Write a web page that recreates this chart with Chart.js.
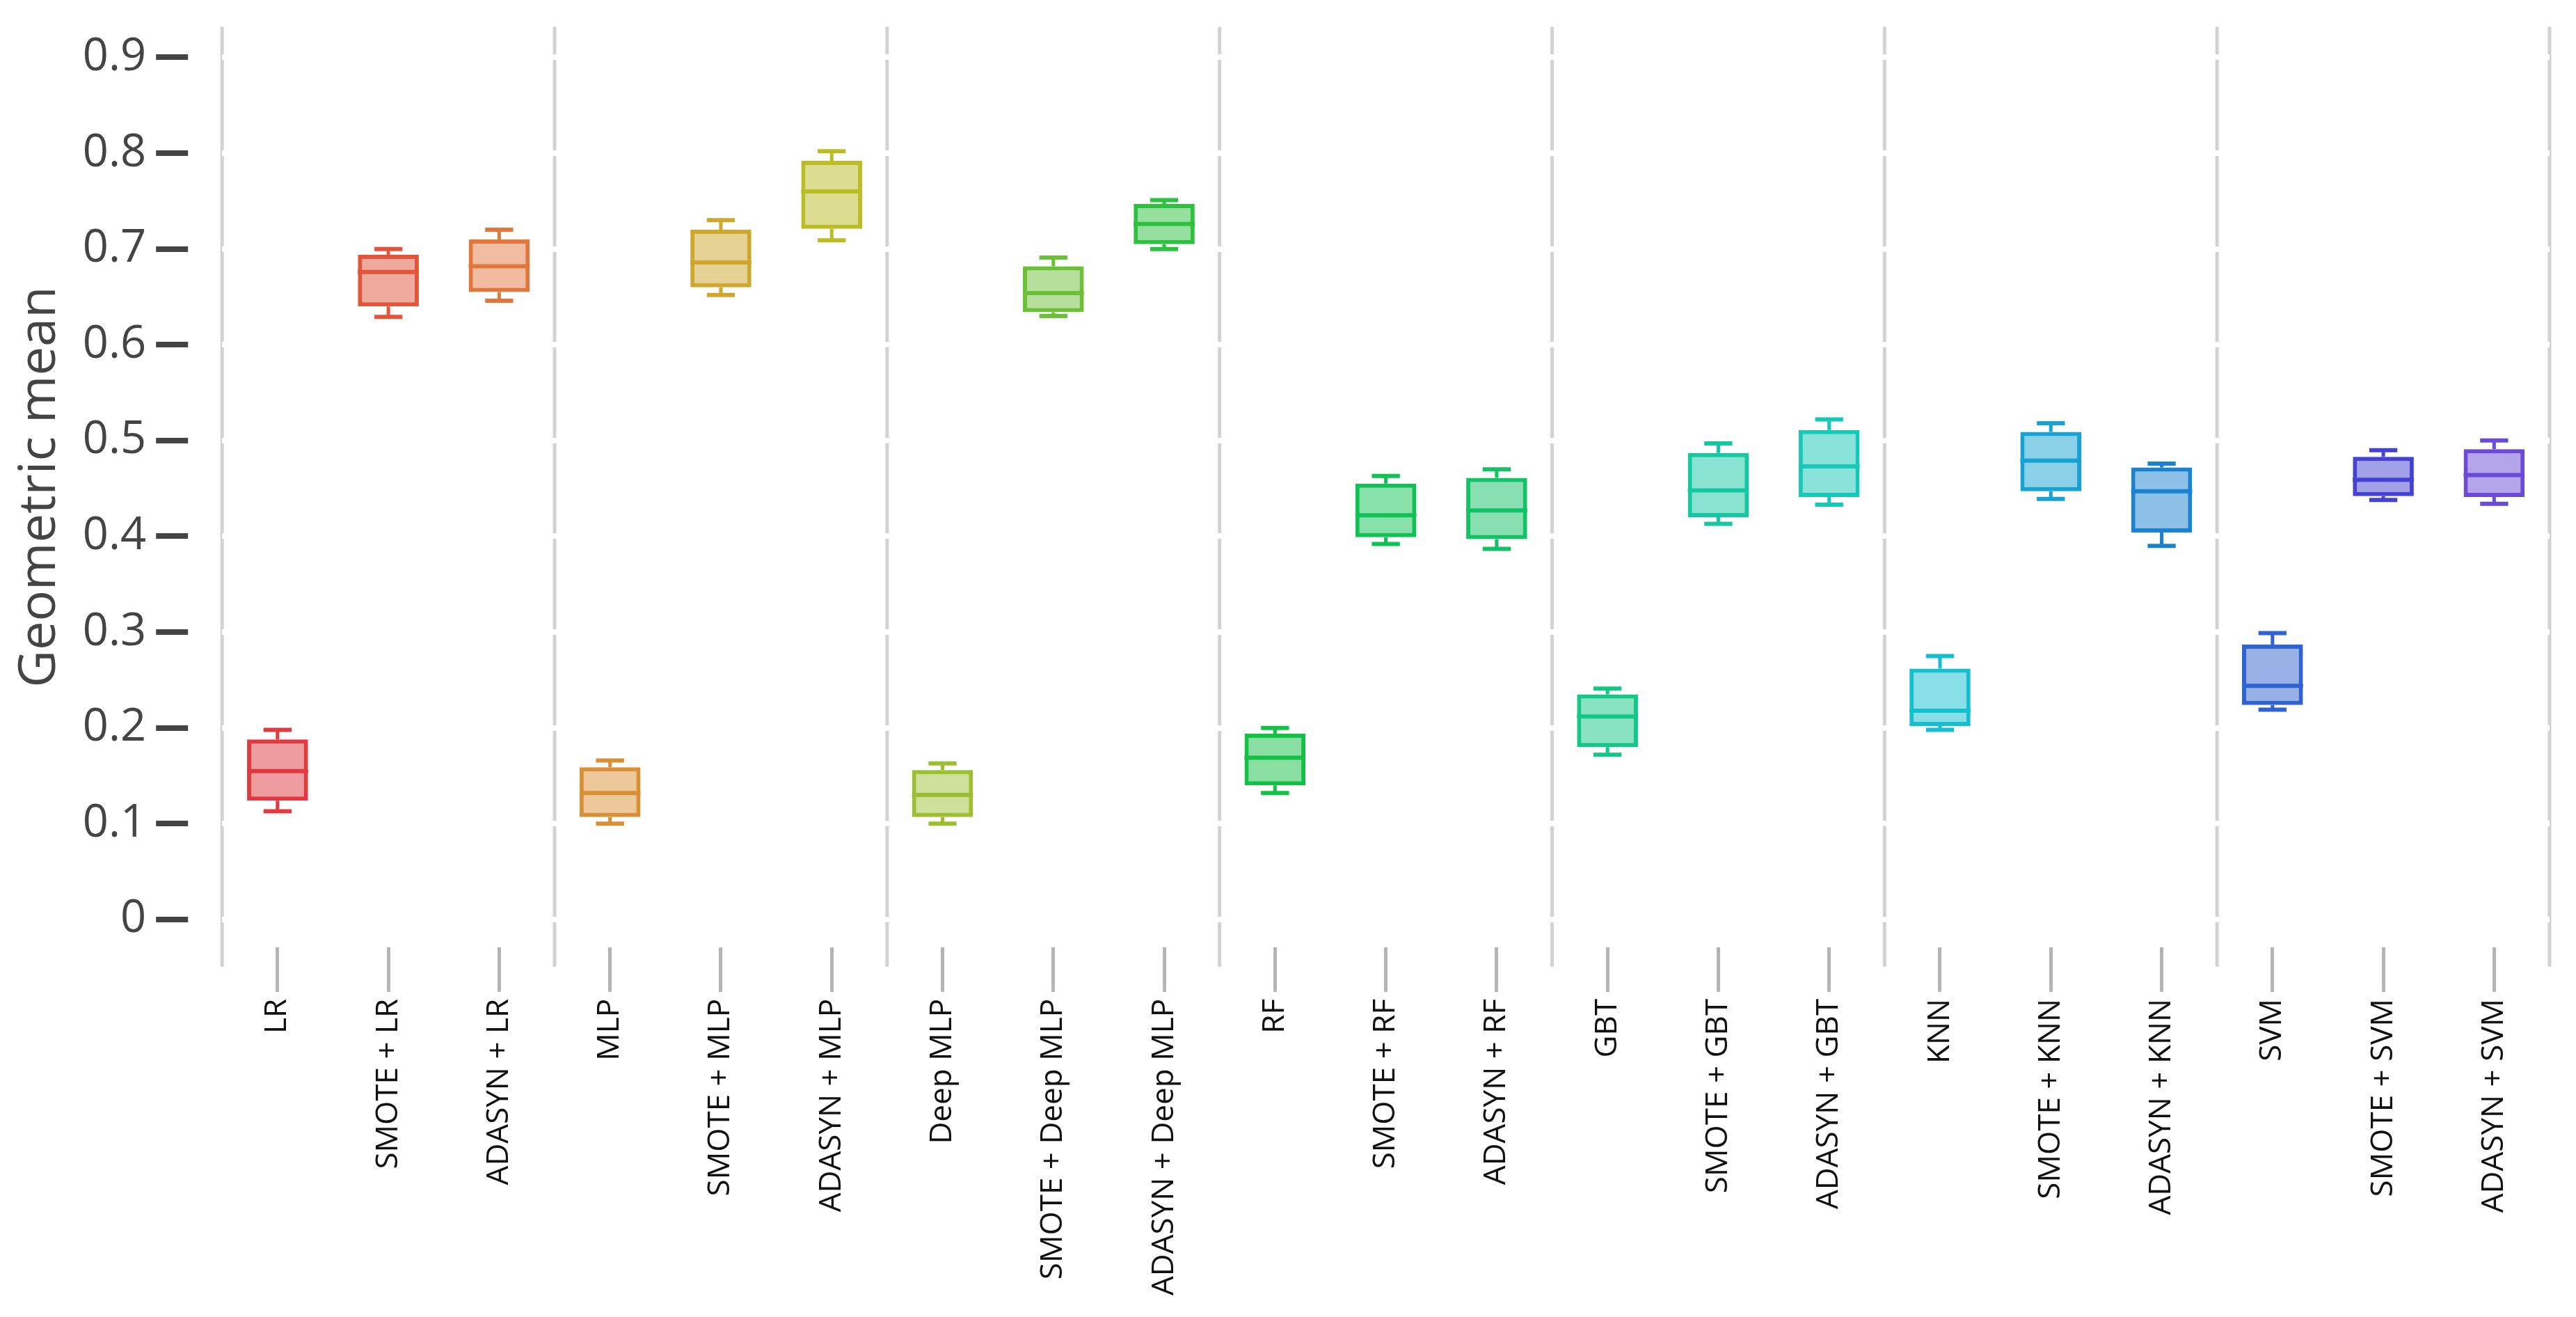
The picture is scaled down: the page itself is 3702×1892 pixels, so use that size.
<!DOCTYPE html>
<html>
<head>
<meta charset="utf-8">
<title>Geometric mean box plot</title>
<script src="https://cdn.jsdelivr.net/npm/chart.js@4.4.1/dist/chart.umd.min.js"></script>
<style>
  html, body { margin: 0; padding: 0; background: #fff; }
  #wrap { width: 3702px; height: 1892px; }
</style>
</head>
<body>
<div id="wrap"><canvas id="chart"></canvas></div>
<script>
const categories = [
  'LR', 'SMOTE + LR', 'ADASYN + LR',
  'MLP', 'SMOTE + MLP', 'ADASYN + MLP',
  'Deep MLP', 'SMOTE + Deep MLP', 'ADASYN + Deep MLP',
  'RF', 'SMOTE + RF', 'ADASYN + RF',
  'GBT', 'SMOTE + GBT', 'ADASYN + GBT',
  'KNN', 'SMOTE + KNN', 'ADASYN + KNN',
  'SVM', 'SMOTE + SVM', 'ADASYN + SVM'
];

// five-number summaries
const whiskerLow  = [0.113, 0.629, 0.646, 0.100, 0.652, 0.709, 0.100, 0.630, 0.700, 0.132, 0.392, 0.387, 0.172, 0.413, 0.433, 0.198, 0.439, 0.390, 0.219, 0.438, 0.434];
const boxLow      = [0.124, 0.640, 0.655, 0.107, 0.660, 0.721, 0.107, 0.634, 0.705, 0.140, 0.399, 0.397, 0.180, 0.420, 0.441, 0.202, 0.447, 0.404, 0.224, 0.442, 0.441];
const medians     = [0.155, 0.676, 0.682, 0.132, 0.686, 0.760, 0.130, 0.654, 0.726, 0.169, 0.422, 0.427, 0.212, 0.448, 0.473, 0.218, 0.479, 0.447, 0.244, 0.459, 0.464];
const boxHigh     = [0.188, 0.694, 0.710, 0.159, 0.720, 0.792, 0.156, 0.682, 0.747, 0.194, 0.455, 0.461, 0.235, 0.487, 0.511, 0.262, 0.509, 0.472, 0.287, 0.483, 0.491];
const whiskerHigh = [0.198, 0.700, 0.720, 0.166, 0.730, 0.802, 0.163, 0.691, 0.751, 0.200, 0.463, 0.470, 0.241, 0.497, 0.522, 0.275, 0.518, 0.476, 0.299, 0.490, 0.500];

const yTicks = [0, 0.1, 0.2, 0.3, 0.4, 0.5, 0.6, 0.7, 0.8, 0.9];

const lineColors = [
  '#e03a40', '#e2553b', '#e1773d',
  '#d98f35', '#cfa62e', '#bcbc26',
  '#9bbf31', '#6cc038', '#2ec13f',
  '#14c045', '#12c155', '#12c265',
  '#14c787', '#14c8a1', '#16c8b8',
  '#14c0cf', '#16a2d2', '#1a82d0',
  '#2f63d0', '#4342d2', '#6a4bd8'
];

function withAlpha(hex, a) {
  const n = parseInt(hex.slice(1), 16);
  return `rgba(${(n >> 16) & 255}, ${(n >> 8) & 255}, ${n & 255}, ${a})`;
}
const fillColors = lineColors.map(c => withAlpha(c, 0.5));

Chart.defaults.font.family = "'Open Sans', 'Noto Sans', sans-serif";

// vertical separators between model groups, under the white y grid
const groupSeparators = {
  id: 'groupSeparators',
  beforeDraw(chart) {
    const { ctx, chartArea, scales: { x } } = chart;
    const step = x.getPixelForValue(1) - x.getPixelForValue(0);
    ctx.save();
    ctx.strokeStyle = '#d2d2d2';
    ctx.lineWidth = 5;
    for (let k = 0; k <= categories.length; k += 3) {
      const px = x.getPixelForValue(k) - step / 2;
      ctx.beginPath();
      ctx.moveTo(px, chartArea.top);
      ctx.lineTo(px, chartArea.bottom + 28);
      ctx.stroke();
    }
    ctx.restore();
  }
};

// medians, whiskers and caps on top of the floating-bar boxes
const boxWhiskers = {
  id: 'boxWhiskers',
  afterDatasetsDraw(chart) {
    const { ctx, scales: { y } } = chart;
    const meta = chart.getDatasetMeta(0);
    ctx.save();
    meta.data.forEach((bar, i) => {
      const half = bar.width / 2;
      const cap = bar.width * 0.23;
      ctx.strokeStyle = lineColors[i];

      ctx.lineWidth = 6;
      const yMed = y.getPixelForValue(medians[i]);
      ctx.beginPath();
      ctx.moveTo(bar.x - half, yMed);
      ctx.lineTo(bar.x + half, yMed);
      ctx.stroke();

      const yQ1 = y.getPixelForValue(boxLow[i]);
      const yQ3 = y.getPixelForValue(boxHigh[i]);
      const yLo = y.getPixelForValue(whiskerLow[i]);
      const yHi = y.getPixelForValue(whiskerHigh[i]);

      ctx.lineWidth = 5;
      ctx.beginPath();
      ctx.moveTo(bar.x, yQ3);
      ctx.lineTo(bar.x, yHi);
      ctx.moveTo(bar.x, yQ1);
      ctx.lineTo(bar.x, yLo);
      ctx.stroke();

      ctx.lineWidth = 6;
      ctx.beginPath();
      ctx.moveTo(bar.x - cap, yHi);
      ctx.lineTo(bar.x + cap, yHi);
      ctx.moveTo(bar.x - cap, yLo);
      ctx.lineTo(bar.x + cap, yLo);
      ctx.stroke();
    });
    ctx.restore();
  }
};

new Chart(document.getElementById('chart'), {
  type: 'bar',
  data: {
    labels: categories,
    datasets: [{
      label: 'Geometric mean',
      data: categories.map((_, i) => [boxLow[i], boxHigh[i]]),
      backgroundColor: fillColors,
      borderColor: lineColors,
      borderWidth: 6,
      borderSkipped: false,
      barPercentage: 0.55,
      categoryPercentage: 1
    }]
  },
  options: {
    responsive: true,
    maintainAspectRatio: false,
    animation: false,
    layout: { padding: { left: 10, right: 38, top: 34, bottom: 21 } },
    plugins: {
      legend: { display: false },
      tooltip: { enabled: false }
    },
    scales: {
      x: {
        offset: true,
        border: { display: false },
        grid: {
          offset: false,
          drawOnChartArea: false,
          tickColor: '#b4b4b4',
          tickWidth: 5,
          tickLength: 64
        },
        ticks: {
          autoSkip: false,
          minRotation: 90,
          maxRotation: 90,
          padding: 10,
          color: '#111',
          font: { size: 44 }
        }
      },
      y: {
        min: -0.029,
        max: 0.932,
        afterBuildTicks: axis => { axis.ticks = yTicks.map(v => ({ value: v })); },
        border: { display: false },
        grid: {
          color: '#ffffff',
          lineWidth: 8,
          tickColor: '#444',
          tickWidth: 8,
          tickLength: 95,
          tickBorderDash: [46, 400]
        },
        ticks: {
          padding: 14,
          color: '#444',
          font: { size: 65, lineHeight: 0.75 },
          callback: v => (v === 0 ? '0' : v.toFixed(1))
        },
        title: {
          display: true,
          text: 'Geometric mean',
          color: '#444',
          font: { size: 74 },
          padding: { top: 4, bottom: 2 }
        }
      }
    }
  },
  plugins: [groupSeparators, boxWhiskers]
});
</script>
</body>
</html>
